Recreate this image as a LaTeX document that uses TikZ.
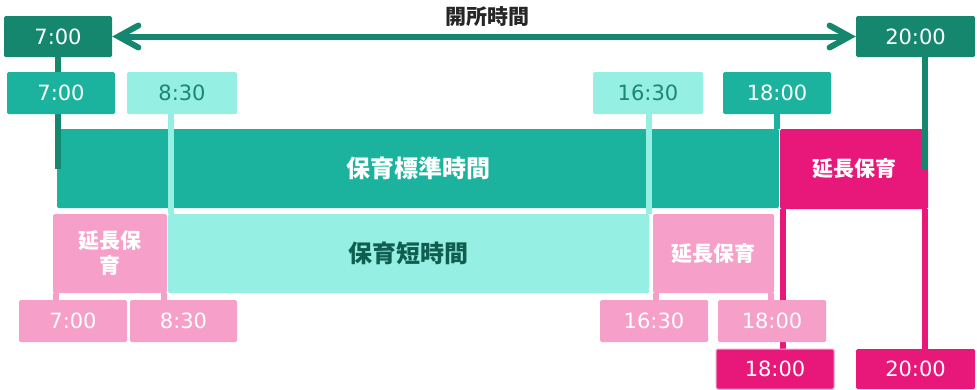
\documentclass[tikz,border=0pt]{standalone}
\usepackage{fontspec}
\usepackage{xcolor}
\usepackage{tikz}
\newfontfamily\numfont{DejaVu Sans}
\newfontfamily\jpfont{Noto Sans CJK JP}
\usetikzlibrary{positioning,calc,arrows.meta}

\definecolor{darkteal}{HTML}{16876F}
\definecolor{stdteal}{HTML}{1BB39E}
\definecolor{lightaqua}{HTML}{96EFE3}
\definecolor{softpink}{HTML}{F6A0C9}
\definecolor{magentared}{HTML}{E8177A}
\definecolor{tealtext}{HTML}{1B8672}
\definecolor{deeptext}{HTML}{0F5E50}

\tikzset{
  timebox/.style={rectangle, rounded corners=1.5pt, inner sep=0pt, minimum width=108pt, minimum height=42pt, text=white, font=\numfont\fontsize{21}{24}\selectfont},
  band/.style={rectangle, rounded corners=1.5pt, inner sep=0pt, text=white, font=\jpfont\bfseries\fontsize{24}{28}\selectfont},
  ext/.style={band, font=\jpfont\bfseries\fontsize{21}{25}\selectfont},
  bar/.style={line width=6pt}
}

\begin{document}
\begin{tikzpicture}[x=1pt,y=-1pt]
  \useasboundingbox (0,0) rectangle (977,389);

  % bands
  \node[band, fill=stdteal, minimum width=722pt, minimum height=79pt] (stdbar) at (418,168.5) {保育標準時間};
  \node[ext, fill=magentared, minimum width=148pt, minimum height=80pt] (extbar) at (854,169) {延長保育};
  \node[band, fill=lightaqua, text=deeptext, minimum width=481pt, minimum height=79pt] (shtbar) at (408.5,253.5) {保育短時間};
  \node[ext, fill=softpink, minimum width=114pt, minimum height=79pt, align=center] (extL) at (110,253.5) {延長保\\育};
  \node[ext, fill=softpink, minimum width=121pt, minimum height=79pt] (extR) at (713.5,253.5) {延長保育};

  % opening hours
  \node[timebox, fill=darkteal, minimum height=41pt] (top7) at (58,36.5) {7:00};
  \node[timebox, fill=darkteal, minimum width=119pt, minimum height=41pt] (top20) at (915.5,36.5) {20:00};
  \draw[bar, darkteal, line cap=round, {Straight Barb[length=20pt,width=22pt,line cap=round]}-{Straight Barb[length=20pt,width=22pt,line cap=round]}] (top7) -- (top20);
  \node[font=\jpfont\bfseries\fontsize{21}{24}\selectfont, text=black!85] (opentitle) at (487,17) {開所時間};

  % connectors
  \draw[bar, darkteal] (top7.south) -- (top7.south |- stdbar.center);
  \draw[bar, darkteal] ([xshift=-3pt]extbar.north east |- top20.south) -- ([xshift=-3pt]extbar.east);
  \draw[bar, lightaqua] ([xshift=3pt]shtbar.north west) -- ([xshift=3pt]shtbar.north west |- 0,114);
  \draw[bar, lightaqua] (shtbar.north east) -- (shtbar.north east |- 0,114);
  \draw[bar, stdteal] (777,114) -- (777,129);
  \draw[bar, magentared] ([xshift=3pt]extbar.south west) -- ([xshift=3pt]extbar.south west |- 0,349);
  \draw[bar, magentared] ([xshift=-3pt]extbar.south east) -- ([xshift=-3pt]extbar.south east |- 0,349);
  \draw[bar, softpink] ([xshift=3pt]extL.south west) -- ([xshift=3pt]extL.south west |- 0,300);
  \draw[bar, softpink] ([xshift=-3pt]extL.south east) -- ([xshift=-3pt]extL.south east |- 0,300);
  \draw[bar, softpink] ([xshift=3pt]extR.south west) -- ([xshift=3pt]extR.south west |- 0,300);
  \draw[bar, softpink] ([xshift=-3pt]extR.south east) -- ([xshift=-3pt]extR.south east |- 0,300);

  % standard / short time labels
  \node[timebox, fill=stdteal] (std7) at (61,93) {7:00};
  \node[timebox, fill=lightaqua, text=tealtext, minimum width=110pt] (sht830) at (182,93) {8:30};
  \node[timebox, fill=lightaqua, text=tealtext, minimum width=110pt] (sht1630) at (648,93) {16:30};
  \node[timebox, fill=stdteal] (std18) at (777,93) {18:00};

  % extended care labels
  \node[timebox, fill=softpink] (pk7) at (73,321) {7:00};
  \node[timebox, fill=softpink, minimum width=107pt] (pk830) at (183.5,321) {8:30};
  \node[timebox, fill=softpink] (pk1630) at (654,321) {16:30};
  \node[timebox, fill=softpink] (pk18) at (772,321) {18:00};
  \node[timebox, fill=magentared, draw=softpink, line width=1pt, minimum width=118pt, minimum height=40pt] (mg18) at (775,369) {18:00};
  \node[timebox, fill=magentared, minimum width=119pt, minimum height=40pt] (mg20) at (915.5,369) {20:00};
\end{tikzpicture}
\end{document}
